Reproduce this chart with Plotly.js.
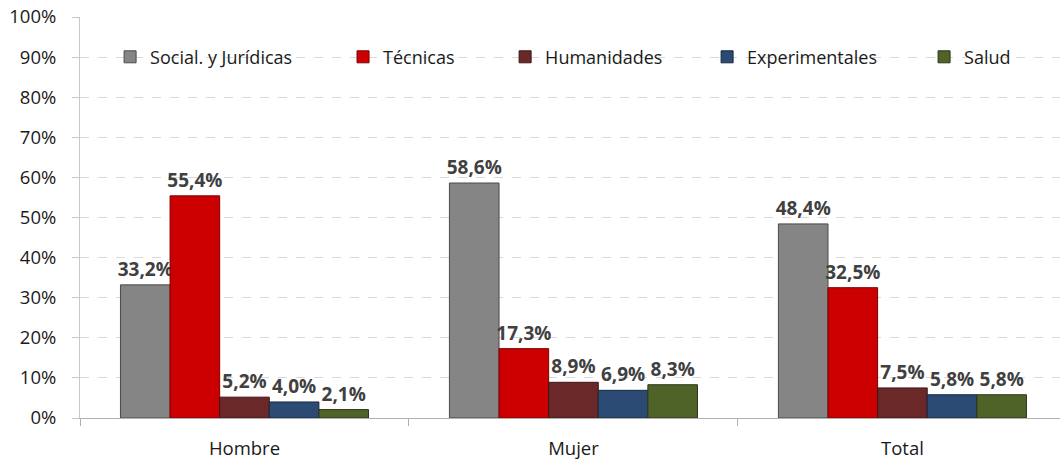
<!DOCTYPE html>
<html>
<head>
<meta charset="utf-8">
<script src="https://cdn.plot.ly/plotly-3.0.1.min.js"></script>
<style>html,body{margin:0;padding:0;background:#fff;}#chart{width:1060px;height:459px;}</style>
</head>
<body>
<div id="chart"></div>
<script>
const categories = ["Hombre", "Mujer", "Total"];
const seriesNames = ["Social. y Jurídicas", "Técnicas", "Humanidades", "Experimentales", "Salud"];
const socialJuridicas = [33.2, 58.6, 48.4];
const tecnicas = [55.4, 17.3, 32.5];
const humanidades = [5.2, 8.9, 7.5];
const experimentales = [4.0, 6.9, 5.8];
const salud = [2.1, 8.3, 5.8];
const seriesValues = [socialJuridicas, tecnicas, humanidades, experimentales, salud];
const seriesColors = ["#858585", "#CC0000", "#6B2828", "#2C4B74", "#4F6228"];
const seriesLines = ["#4a4a4a", "#7a0000", "#3d1515", "#17273f", "#2b3716"];
const legendX = [0.0307, 0.2684, 0.4338, 0.6399, 0.8613];
const yTicks = [0,10,20,30,40,50,60,70,80,90,100];

const FONT = "'Open Sans', 'Noto Sans', sans-serif";
const legendIds = ["legend", "legend2", "legend3", "legend4", "legend5"];
const traces = seriesNames.map((name, i) => ({
  type: "bar",
  name: name,
  legend: legendIds[i],
  x: categories,
  y: seriesValues[i],
  marker: {color: seriesColors[i], line: {color: seriesLines[i], width: 1}},
  texttemplate: "%{y:.1f}%",
  textposition: "outside",
  constraintext: "none",
  cliponaxis: false,
  textfont: {family: FONT, size: 19, color: "#404040", weight: "bold"},
  hoverinfo: "none"
}));

const layout = {
  width: 1060, height: 459,
  margin: {l: 80, r: 0, t: 17, b: 41},
  paper_bgcolor: "#fff", plot_bgcolor: "#fff",
  separators: ",.",
  barmode: "group",
  bargap: 0.246,
  bargroupgap: 0,
  font: {family: FONT, size: 18, color: "#1a1a1a"},
  showlegend: true,
  xaxis: {
    type: "category",
    range: [-0.5, 2.479],
    showline: true, linecolor: "#b0b0b0", linewidth: 1,
    ticks: "outside", tickson: "boundaries", ticklen: 7, tickcolor: "#b0b0b0",
    showgrid: false, zeroline: false,
    ticklabelstandoff: 14,
    tickfont: {family: FONT, size: 18.5, color: "#1a1a1a"}
  },
  yaxis: {
    range: [0, 100],
    tickvals: yTicks,
    ticktext: yTicks.map(v => v + "%"),
    showline: true, linecolor: "#c8c8c8", linewidth: 1,
    ticks: "outside", ticklen: 7, tickcolor: "#c8c8c8",
    showgrid: true, gridcolor: "#d9d9d9", griddash: "dash", gridwidth: 1,
    zeroline: false,
    ticklabelstandoff: 12,
    tickfont: {family: FONT, size: 18.5, color: "#1a1a1a"}
  }
};
legendIds.forEach((id, i) => {
  layout[id] = {
    orientation: "h", x: legendX[i], xanchor: "left", y: 0.9, yanchor: "middle",
    font: {family: FONT, size: 18, color: "#1a1a1a"},
    bgcolor: "rgba(0,0,0,0)"
  };
});

Plotly.newPlot("chart", traces, layout, {displayModeBar: false, staticPlot: true});
</script>
</body>
</html>
